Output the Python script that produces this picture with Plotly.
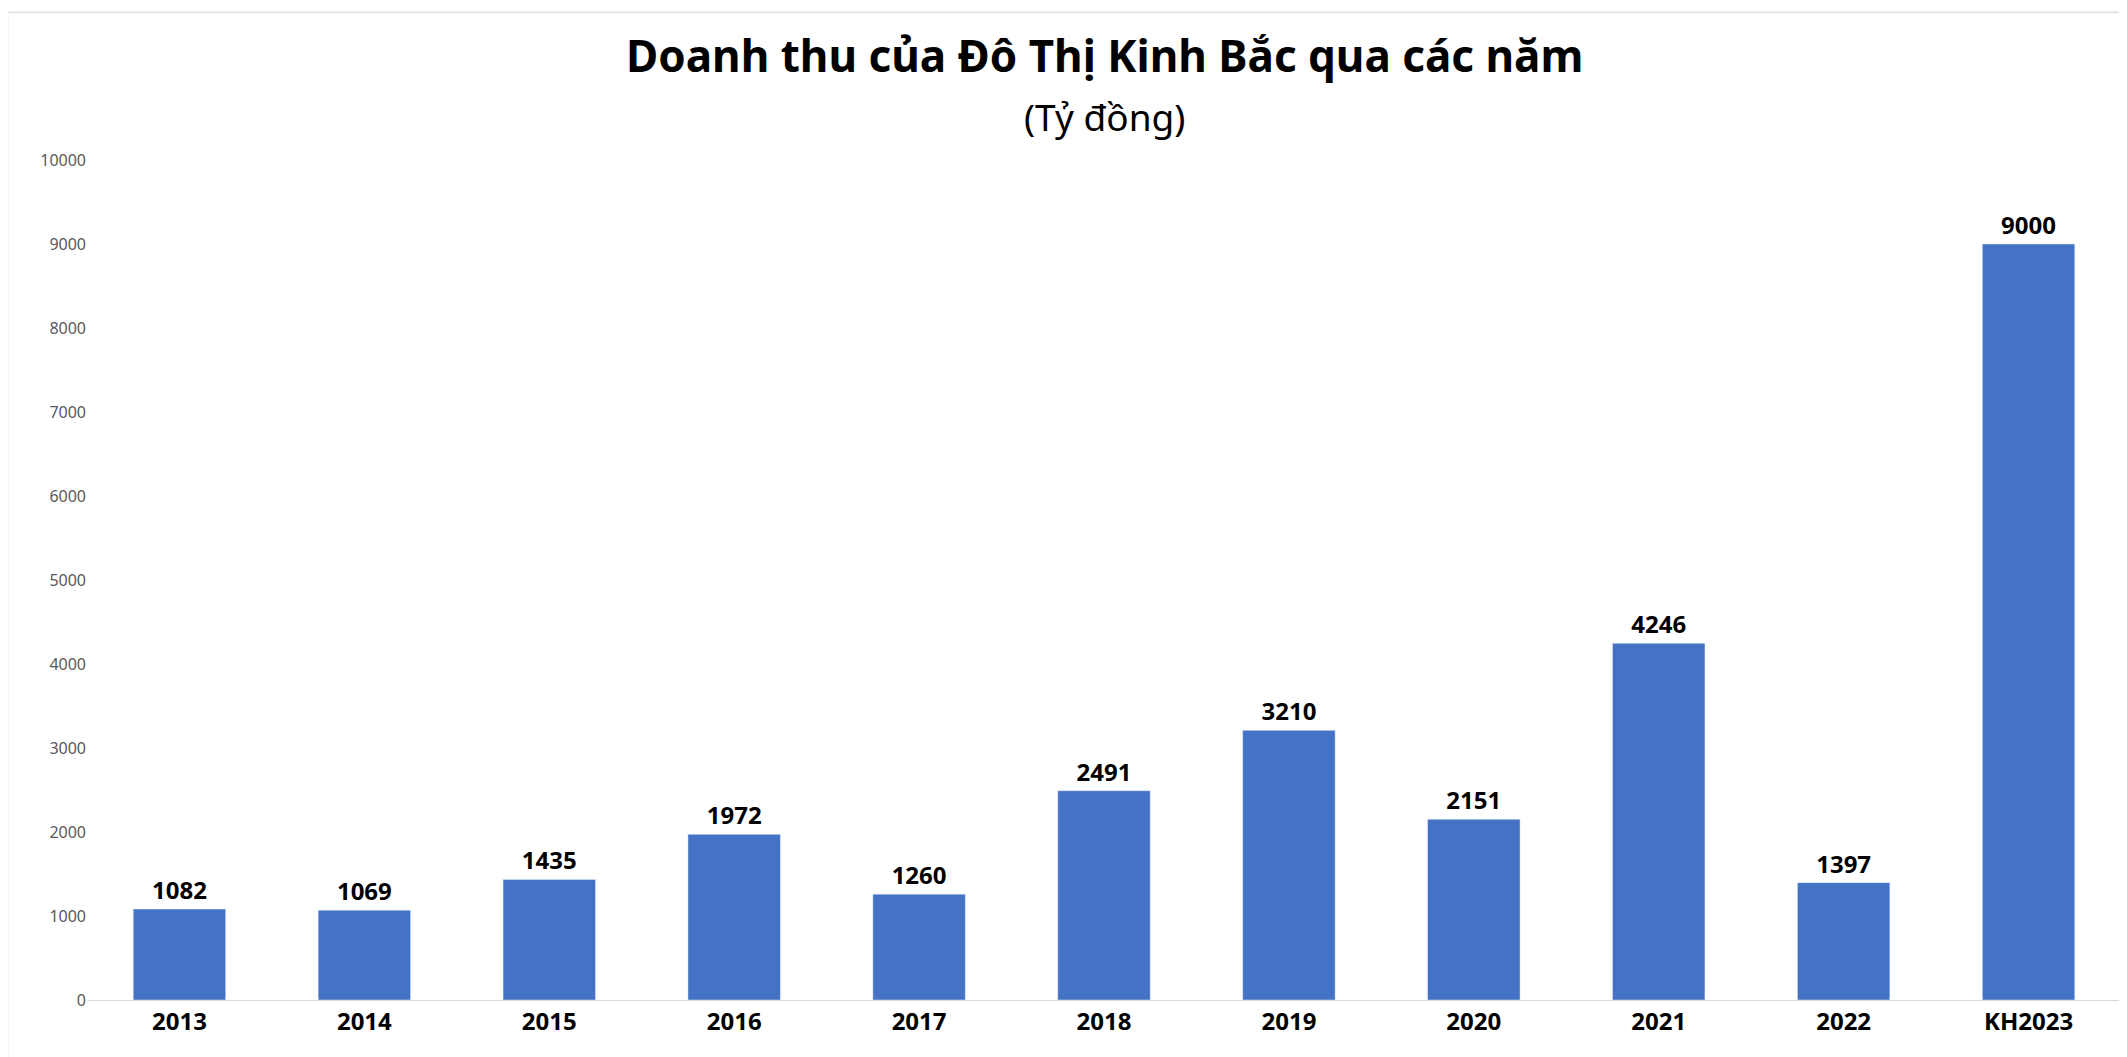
import plotly.graph_objects as go

# Data
years = ['2013', '2014', '2015', '2016', '2017', '2018', '2019', '2020', '2021', '2022', 'KH2023']
revenue = [1082, 1069, 1435, 1972, 1260, 2491, 3210, 2151, 4246, 1397, 9000]

fig = go.Figure(go.Bar(
    x=years, y=revenue,
    marker_color='#4472C4',
    width=0.5,
    text=revenue, texttemplate='<b>%{text}</b>', textposition='outside',
    textfont=dict(size=24, color='black', family='Noto Sans'),
    cliponaxis=False,
))

fig.update_layout(
    width=2127, height=1057,
    paper_bgcolor='white', plot_bgcolor='white',
    margin=dict(l=79, r=14, t=152, b=65),
    font=dict(family='Noto Sans'),
    showlegend=False,
)
fig.add_annotation(text='<b>Doanh thu của Đô Thị Kinh Bắc qua các năm</b>',
                   xref='paper', yref='paper', x=0.5, y=1.125, showarrow=False,
                   yanchor='middle', font=dict(size=44, color='black'))
fig.add_annotation(text='(Tỷ đồng)',
                   xref='paper', yref='paper', x=0.5, y=1.052, showarrow=False,
                   yanchor='middle', font=dict(size=37, color='black'))
fig.update_xaxes(
    showline=True, linecolor='#d9d9d9', linewidth=1,
    tickfont=dict(size=24, color='black', family='Noto Sans'),
    tickprefix='<b>', ticksuffix='</b>', ticks='',
)
fig.update_yaxes(
    range=[0, 10000], dtick=1000, tickformat='d', showgrid=False, zeroline=False,
    tickfont=dict(size=16, color='#595959'), ticks='',
)
fig.add_shape(type='rect', xref='paper', yref='paper', x0=-0.039, x1=1.0069,
              y0=-0.076, y1=1.176, line=dict(color='#d0d0d0', width=1))

fig.write_html("out.html")
